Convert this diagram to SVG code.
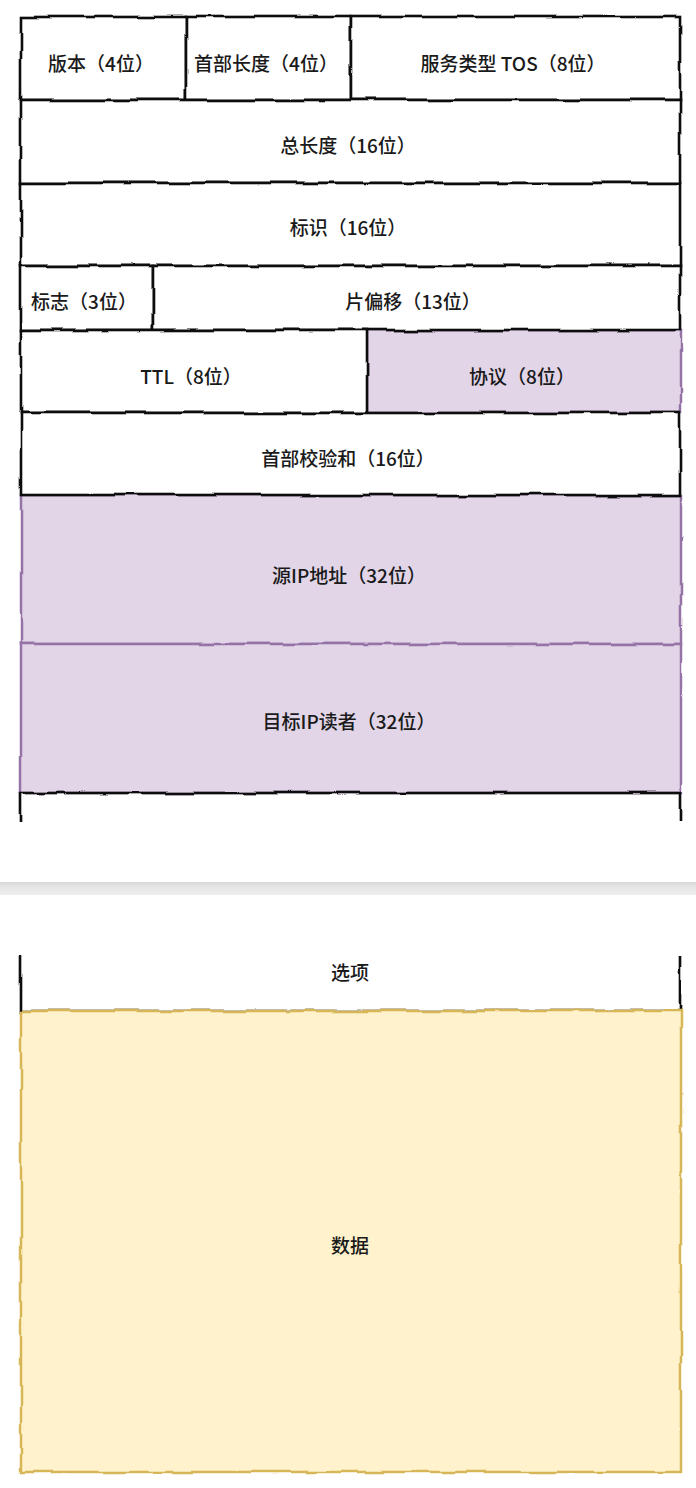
<svg xmlns="http://www.w3.org/2000/svg" width="696" height="1488" viewBox="0 0 696 1488">
<defs>
<filter id="rough" x="-5%" y="-10%" width="110%" height="120%">
<feTurbulence type="fractalNoise" baseFrequency="0.025" numOctaves="2" seed="7" result="n"/>
<feDisplacementMap in="SourceGraphic" in2="n" scale="5" xChannelSelector="R" yChannelSelector="G"/>
</filter>
<linearGradient id="band" x1="0" y1="0" x2="0" y2="1">
<stop offset="0" stop-color="#d9d9d9"/>
<stop offset="0.4" stop-color="#e6e6e6"/>
<stop offset="1" stop-color="#eeeeee"/>
</linearGradient>
</defs>
<style>
.w{fill:#ffffff;stroke:#111111;stroke-width:2.6;filter:url(#rough)}
.o{fill:none;stroke:#111111;stroke-width:2.6;filter:url(#rough)}
.p{fill:#e1d5e7;stroke:#9673a6;stroke-width:2.5;filter:url(#rough)}
.y{fill:#fff2cc;stroke:#d6b656;stroke-width:2.5;filter:url(#rough)}
text{font-family:"Noto Sans CJK SC","Noto Sans",sans-serif;font-size:19px;font-weight:500;fill:#1a1a1a;text-anchor:middle;dominant-baseline:central}
</style>
<rect width="696" height="1488" fill="#ffffff"/>
<rect x="0" y="882" width="696" height="13" fill="url(#band)"/>
<g id="protocol"><rect class="p" x="367" y="330" width="314" height="83"/><text x="522" y="375">协议（8位）</text></g>
<g id="src-ip"><rect class="p" x="21" y="495" width="660" height="149"/><text x="349" y="574">源IP地址（32位）</text></g>
<g id="dst-ip"><rect class="p" x="21" y="644" width="660" height="149"/><text x="349" y="720">目标IP读者（32位）</text></g>
<g id="version"><rect class="w" x="21" y="17" width="165" height="83"/><text x="101" y="62">版本（4位）</text></g>
<g id="header-length"><rect class="w" x="186" y="17" width="165" height="83"/><text x="266" y="62">首部长度（4位）</text></g>
<g id="tos"><rect class="w" x="351" y="17" width="329" height="83"/><text x="513" y="62">服务类型 TOS（8位）</text></g>
<g id="total-length"><rect class="w" x="21" y="100" width="659" height="83"/><text x="348" y="144">总长度（16位）</text></g>
<g id="identification"><rect class="w" x="21" y="183" width="659" height="83"/><text x="348" y="226">标识（16位）</text></g>
<g id="flags"><rect class="w" x="21" y="266" width="132" height="64"/><text x="84" y="300">标志（3位）</text></g>
<g id="fragment-offset"><rect class="w" x="153" y="266" width="527" height="64"/><text x="413" y="300">片偏移（13位）</text></g>
<g id="ttl"><rect class="w" x="21" y="330" width="346" height="83"/><text x="191" y="375">TTL（8位）</text></g>
<g id="checksum"><rect class="w" x="21" y="413" width="659" height="82"/><text x="348" y="457">首部校验和（16位）</text></g>
<g id="cut-top"><path class="o" d="M21,822 V793 H680 V822"/></g>
<g id="options"><path class="o" d="M21,956 V1011 H680 V956"/><text x="350" y="971">选项</text></g>
<g id="data"><rect class="y" x="21" y="1011" width="660" height="461"/><text x="350" y="1244">数据</text></g>
<g id="connectors"></g>
</svg>
